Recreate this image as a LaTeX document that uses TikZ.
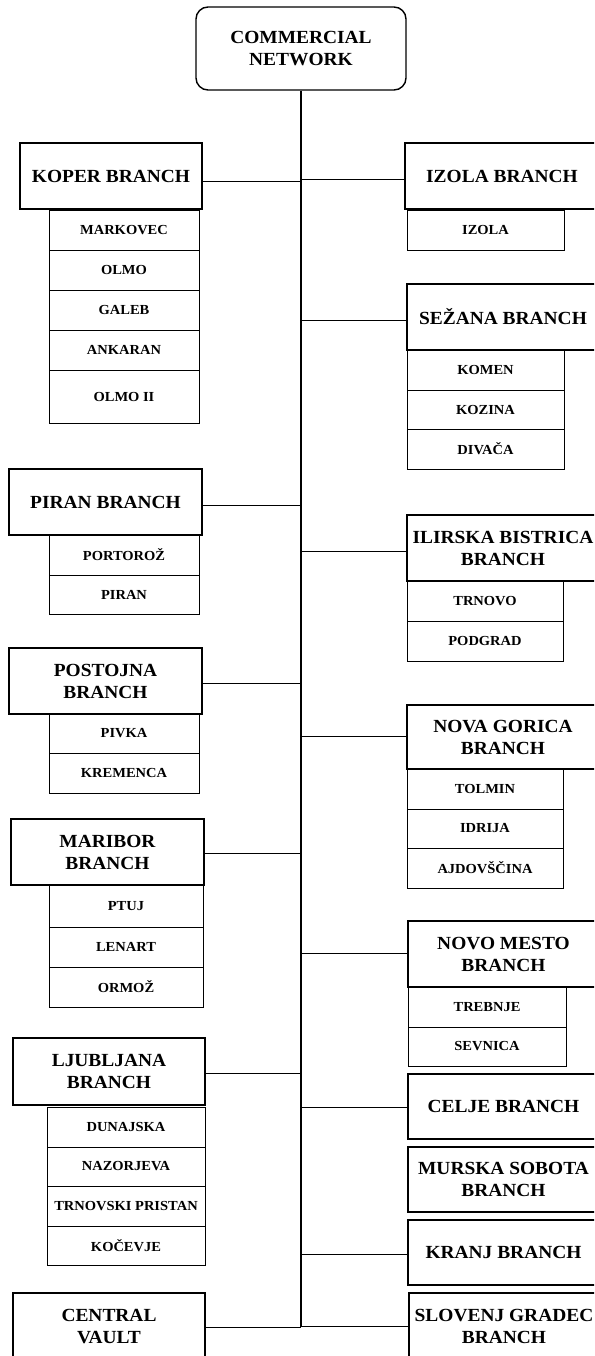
\documentclass[tikz,border=0pt]{standalone}
\usepackage{fontspec}
\setmainfont{Liberation Serif}
\newfontfamily\tbold{Liberation Serif Bold}[FakeStretch=1.05]
\newcommand\branchfont{\tbold\fontsize{18.5}{22}\selectfont}
\newcommand\subfont{\tbold\fontsize{13.8}{16}\selectfont}
\newcommand\BX[7]{\node[#1, minimum width={(#5-#3)*1pt}, minimum height={(#6-#4)*1pt}] (#2) at ({(#3+#5)/2},{(#4+#6)/2}) {#7};}
\tikzset{
  branch/.style={draw, line width=1.6pt, inner sep=0pt, align=center, font=\branchfont, fill=white},
  sub/.style={draw, line width=0.8pt, inner sep=0pt, align=center, font=\subfont},
  topbox/.style={draw, line width=1.4pt, rounded corners=12pt, inner sep=0pt, align=center, font=\branchfont},
  link/.style={line width=1pt}
}
\begin{document}
\begin{tikzpicture}[x=1pt,y=-1pt]
\useasboundingbox (0,0) rectangle (594,1356);
\clip (0,0) rectangle (594,1356);
% top
\BX{topbox}{top}{196}{7}{406}{90}{COMMERCIAL\\NETWORK}
% trunk junctions
\coordinate (jKoper) at (301,182);
\coordinate (jIzola) at (301,180);
\coordinate (jSezana) at (301,320);
\coordinate (jPiran) at (301,505);
\coordinate (jIlirska) at (301,551);
\coordinate (jPostojna) at (301,683);
\coordinate (jNovaGorica) at (301,736);
\coordinate (jMaribor) at (301,853);
\coordinate (jNovoMesto) at (301,953);
\coordinate (jLjubljana) at (301,1073);
\coordinate (jCelje) at (301,1107);
\coordinate (jKranj) at (301,1254);
\coordinate (jSlovenj) at (301,1326);
\coordinate (jVault) at (301,1327);
\draw[line width=1.3pt] (top.south) -- (top.south |- jVault);
% left sub boxes
\BX{sub}{ko1}{49}{210}{199}{250}{MARKOVEC}
\BX{sub}{ko2}{49}{250}{199}{290}{OLMO}
\BX{sub}{ko3}{49}{290}{199}{330}{GALEB}
\BX{sub}{ko4}{49}{330}{199}{370}{ANKARAN}
\BX{sub}{ko5}{49}{370}{199}{423}{OLMO II}
\BX{sub}{pi1}{49}{535}{199}{575}{PORTOROŽ}
\BX{sub}{pi2}{49}{575}{199}{614}{PIRAN}
\BX{sub}{po1}{49}{714}{199}{753}{PIVKA}
\BX{sub}{po2}{49}{753}{199}{793}{KREMENCA}
\BX{sub}{ma1}{49}{885}{203}{927}{PTUJ}
\BX{sub}{ma2}{49}{927}{203}{967}{LENART}
\BX{sub}{ma3}{49}{967}{203}{1007}{ORMOŽ}
\BX{sub}{lj1}{47}{1107}{205}{1147}{DUNAJSKA}
\BX{sub}{lj2}{47}{1147}{205}{1186}{NAZORJEVA}
\BX{sub}{lj3}{47}{1186}{205}{1226}{TRNOVSKI PRISTAN}
\BX{sub}{lj4}{47}{1226}{205}{1265}{KOČEVJE}
% right sub boxes
\BX{sub}{iz1}{407}{210}{564}{250}{IZOLA}
\BX{sub}{se1}{407}{350}{564}{390}{KOMEN}
\BX{sub}{se2}{407}{390}{564}{429}{KOZINA}
\BX{sub}{se3}{407}{429}{564}{469}{DIVAČA}
\BX{sub}{il1}{407}{581}{563}{621}{TRNOVO}
\BX{sub}{il2}{407}{621}{563}{661}{PODGRAD}
\BX{sub}{ng1}{407}{769}{563}{809}{TOLMIN}
\BX{sub}{ng2}{407}{809}{563}{848}{IDRIJA}
\BX{sub}{ng3}{407}{848}{563}{888}{AJDOVŠČINA}
\BX{sub}{nm1}{408}{987}{566}{1027}{TREBNJE}
\BX{sub}{nm2}{408}{1027}{566}{1066}{SEVNICA}
% left branches
\BX{branch}{koper}{20}{143}{202}{209}{KOPER BRANCH}
\BX{branch}{piran}{9}{469}{202}{535}{PIRAN BRANCH}
\BX{branch}{postojna}{9}{648}{202}{714}{POSTOJNA\\BRANCH}
\BX{branch}{maribor}{11}{819}{204}{885}{MARIBOR\\BRANCH}
\BX{branch}{ljubljana}{13}{1038}{205}{1105}{LJUBLJANA\\BRANCH}
\BX{branch}{vault}{13}{1293}{205}{1360}{CENTRAL\\VAULT}
% right branches
\BX{branch}{izola}{405}{143}{599}{209}{IZOLA BRANCH}
\BX{branch}{sezana}{407}{284}{599}{350}{SEŽANA BRANCH}
\BX{branch}{ilirska}{407}{515}{599}{581}{ILIRSKA BISTRICA\\BRANCH}
\BX{branch}{novagorica}{407}{705}{599}{769}{NOVA GORICA\\BRANCH}
\BX{branch}{novomesto}{408}{921}{599}{987}{NOVO MESTO\\BRANCH}
\BX{branch}{celje}{408}{1074}{599}{1139}{CELJE BRANCH}
\BX{branch}{murska}{408}{1147}{599}{1212}{MURSKA SOBOTA\\BRANCH}
\BX{branch}{kranj}{408}{1220}{599}{1285}{KRANJ BRANCH}
\BX{branch}{slovenj}{409}{1293}{599}{1360}{SLOVENJ GRADEC\\BRANCH}
% connectors
\draw[link] (koper.east |- jKoper) -- (jKoper);
\draw[link] (piran.east |- jPiran) -- (jPiran);
\draw[link] (postojna.east |- jPostojna) -- (jPostojna);
\draw[link] (maribor.east |- jMaribor) -- (jMaribor);
\draw[link] (ljubljana.east |- jLjubljana) -- (jLjubljana);
\draw[link] (vault.east |- jVault) -- (jVault);
\draw[link] (jIzola) -- (izola.west |- jIzola);
\draw[link] (jSezana) -- (sezana.west |- jSezana);
\draw[link] (jIlirska) -- (ilirska.west |- jIlirska);
\draw[link] (jNovaGorica) -- (novagorica.west |- jNovaGorica);
\draw[link] (jNovoMesto) -- (novomesto.west |- jNovoMesto);
\draw[link] (jCelje) -- (celje.west |- jCelje);
\draw[link] (jKranj) -- (kranj.west |- jKranj);
\draw[link] (jSlovenj) -- (slovenj.west |- jSlovenj);
\end{tikzpicture}
\end{document}
